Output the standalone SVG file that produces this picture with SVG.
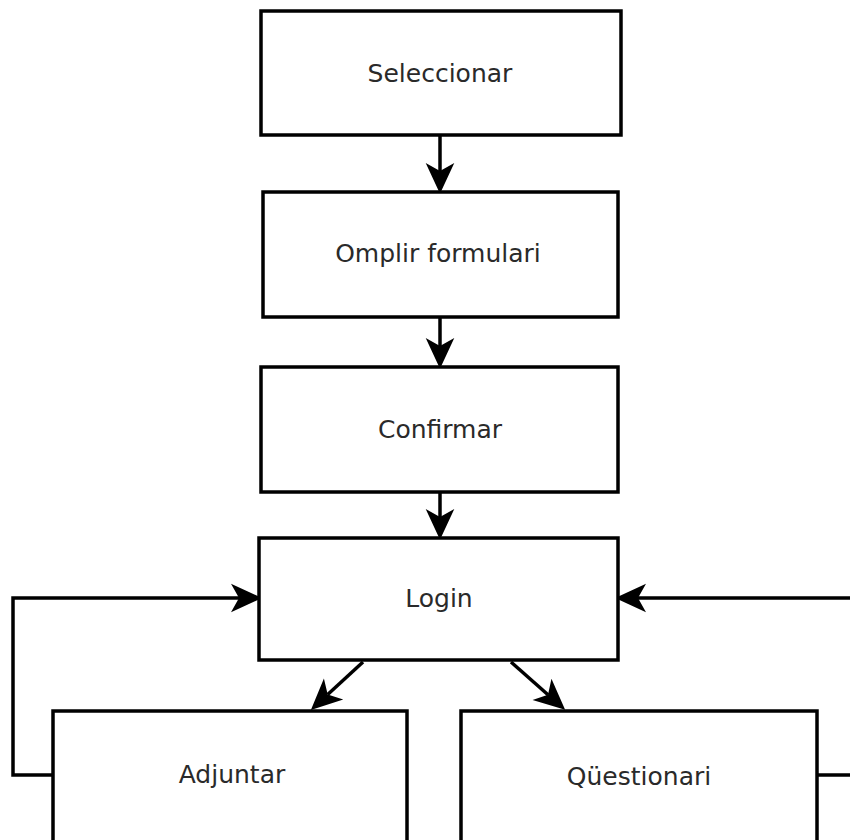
<svg xmlns="http://www.w3.org/2000/svg" width="850" height="840" viewBox="0 0 850 840">
  <style>
    .box { fill: #ffffff; stroke: #000000; stroke-width: 3.5; }
    .lbl { font-family: "DejaVu Sans", "Liberation Sans", sans-serif; font-size: 25px; fill: #2a2a2a; text-anchor: middle; }
    .conn { fill: none; stroke: #000000; stroke-width: 3.5; }
  </style>
  <defs>
    <marker id="arrow" markerUnits="userSpaceOnUse" markerWidth="40" markerHeight="40" viewBox="-10 -15 35 30" refX="0" refY="0" orient="auto">
      <path d="M-7,-12.5 L20,0 L-7,12.5 L0,0 Z" fill="#000000"/>
    </marker>
  </defs>
  <rect width="850" height="840" fill="#ffffff"/>

  <g id="connectors">
    <path class="conn" d="M440,135 V171" marker-end="url(#arrow)"/>
    <path class="conn" d="M440,317 V346" marker-end="url(#arrow)"/>
    <path class="conn" d="M440,492 V517" marker-end="url(#arrow)"/>
    <path class="conn" d="M363,662 L327.7,694.5" marker-end="url(#arrow)"/>
    <path class="conn" d="M511,662 L548,694.7" marker-end="url(#arrow)"/>
    <path class="conn" d="M53,775 H13 V598 H239" marker-end="url(#arrow)"/>
    <path class="conn" d="M817,775 H853 V598 H638" marker-end="url(#arrow)"/>
  </g>

  <g id="seleccionar">
    <rect class="box" x="261" y="11" width="360" height="124"/>
    <text class="lbl" x="440" y="82">Seleccionar</text>
  </g>
  <g id="omplir">
    <rect class="box" x="263" y="192" width="355" height="125"/>
    <text class="lbl" x="438" y="262">Omplir formulari</text>
  </g>
  <g id="confirmar">
    <rect class="box" x="261" y="367" width="357" height="125"/>
    <text class="lbl" x="440" y="438">Confirmar</text>
  </g>
  <g id="login">
    <rect class="box" x="259" y="538" width="359" height="122"/>
    <text class="lbl" x="439" y="607">Login</text>
  </g>
  <g id="adjuntar">
    <rect class="box" x="53" y="711" width="354" height="140"/>
    <text class="lbl" x="232" y="783">Adjuntar</text>
  </g>
  <g id="questionari">
    <rect class="box" x="461" y="711" width="356" height="140"/>
    <text class="lbl" x="639" y="785">Qüestionari</text>
  </g>
</svg>
